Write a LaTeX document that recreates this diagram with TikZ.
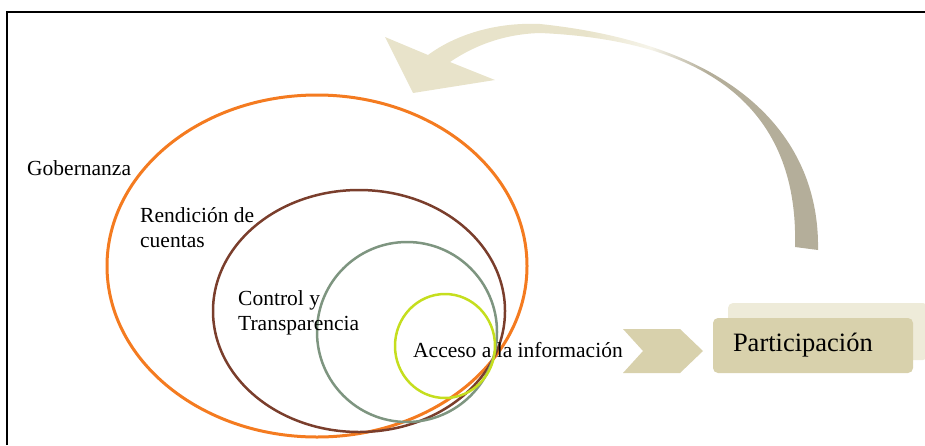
\documentclass[tikz,border=0pt]{standalone}
\usepackage{fontspec}
\setmainfont{Liberation Serif}
\usetikzlibrary{positioning}

\definecolor{gobcolor}{HTML}{F47B20}
\definecolor{rencolor}{HTML}{7A3E2C}
\definecolor{concolor}{HTML}{7E9580}
\definecolor{acccolor}{HTML}{C5DE1E}
\definecolor{beige}{HTML}{D8D1AC}
\definecolor{beigelight}{HTML}{EEEBD9}
\definecolor{arrowlight}{HTML}{E8E3CA}
\definecolor{arrowfade}{HTML}{F6F4EA}
\definecolor{arrowdark}{HTML}{B4AE9A}

\pgfdeclarehorizontalshading{backshade}{100bp}{color(0bp)=(arrowlight); color(48bp)=(arrowlight); color(55.5bp)=(arrowfade); color(62bp)=(arrowdark); color(100bp)=(arrowdark)}

\begin{document}
\begin{tikzpicture}[x=1pt, y=-1pt,
    lbl/.style = {font=\fontsize{21.5}{25}\selectfont, inner sep=0pt, align=left},
    ring/.style = {line width=2.5pt},
    frontbox/.style = {fill=beige, rounded corners=5pt, minimum height=55pt, text width=160pt, inner xsep=20pt, inner ysep=0pt, align=left, font=\fontsize{26.5}{30}\selectfont},
    backbox/.style = {fill=beigelight, rounded corners=5pt, minimum height=57pt, minimum width=200pt, inner sep=0pt}]
    \useasboundingbox (0,0) rectangle (925,445);

    % frame
    \draw[line width=2pt] (7,445) -- (7,12) -- (925,12);

    % rings
    \draw[ring, gobcolor, line width=3pt] (317,266) ellipse [x radius=210, y radius=171];
    \draw[ring, rencolor] (359,311) ellipse [x radius=146, y radius=121];
    \draw[ring, concolor] (407,332) ellipse [x radius=90, y radius=90];
    \draw[ring, acccolor] (445,346) ellipse [x radius=50, y radius=52];

    % labels
    \node[lbl, anchor=base west] (gob) at (27,175) {Gobernanza};
    \node[lbl, anchor=north west] (ren) at (140,207) {Rendición de\\cuentas};
    \node[lbl, anchor=north west] (con) at (238,290) {Control y\\Transparencia};
    \node[lbl, anchor=base west] (acc) at (413,357) {Acceso a la información};

    % chevron and box
    \fill[beige] (623,329) -- (680,329) -- (703,351) -- (680,373) -- (623,373) -- (643,351) -- cycle;
    \node[backbox] (partback) at (828,331.5) {};
    \node[frontbox] (part) at (813,345.5) {Participación};

    % return arrow
    \shade[shading=backshade]
        (818,250) .. controls (820,140) and (740,45) .. (540,24)
        .. controls (495,22) and (455,35) .. (428,55)
        -- (385,37) -- (413,93) -- (495,80) -- (450,62)
        .. controls (475,45) and (505,34) .. (540,33)
        .. controls (745,42) and (798,140) .. (795,247) -- cycle;
\end{tikzpicture}
\end{document}
